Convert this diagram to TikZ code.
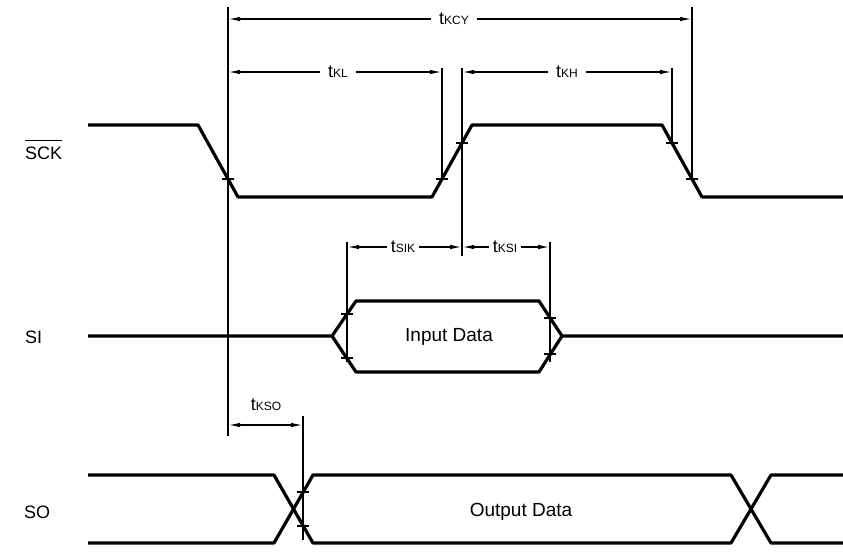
\documentclass[tikz,border=0pt]{standalone}
\usepackage{fontspec}
\setmainfont{Liberation Sans}
\usetikzlibrary{arrows.meta}

\newcommand{\tlab}[1]{t{\fontsize{12}{13}\selectfont #1}}

\begin{document}
\begin{tikzpicture}[x=1pt, y=-1pt,
  sig/.style = {line width=3.2pt, line join=round},
  guide/.style = {line width=1.2pt},
  tick/.style = {line width=1.2pt},
  dim/.style = {line width=1.4pt, -{Latex[length=12pt,width=4.5pt]}},
  signame/.style = {font=\fontsize{18}{20}\selectfont, inner sep=0pt, anchor=base west},
  tval/.style = {font=\fontsize{18}{20}\selectfont, inner xsep=8pt, inner ysep=3pt},
  data/.style = {font=\fontsize{19}{21}\selectfont}]

\useasboundingbox (0,0) rectangle (843,552);

% signal names
\node[signame] (sck) at (25,159) {SCK};
\draw[guide] ([yshift=6pt]sck.north west) -- ([yshift=6pt]sck.north east);
\node[signame] (si) at (25,343) {SI};
\node[signame] (so) at (24,518) {SO};

% SCK
\draw[sig] (88,125) -- (198,125) -- (238,197) -- (432,197) -- (472,125)
  -- (662,125) -- (702,197) -- (843,197);

% SI
\draw[sig] (88,336) -- (332,336) -- (356,301) -- (539,301) -- (562,336) -- (843,336);
\draw[sig] (332,336) -- (356,372) -- (539,372) -- (562,336);
\node[data] (in) at (449,337) {Input Data};

% SO
\draw[sig] (88,475) -- (274,475) -- (313,543) -- (731,543) -- (771,475) -- (843,475);
\draw[sig] (88,543) -- (274,543) -- (313,475) -- (731,475) -- (771,543) -- (843,543);
\node[data] (out) at (521,512) {Output Data};

% reference lines
\draw[guide] (228,7) -- (228,436);
\draw[guide] (442,68) -- (442,179);
\draw[guide] (462,68) -- (462,256);
\draw[guide] (672,68) -- (672,143);
\draw[guide] (692,7) -- (692,180);
\draw[guide] (347,242) -- (347,362);
\draw[guide] (550,242) -- (550,362);
\draw[guide] (303,416) -- (303,540);

% crossing marks
\foreach \x/\y in {228/179, 442/179, 462/143, 672/143, 692/179,
    347/314, 347/358, 550/318, 550/354, 303/492, 303/526}
  \draw[tick] (\x-6,\y) -- (\x+6,\y);

% timing values
\node[tval] (kcy) at (454,19) {\tlab{KCY}};
\draw[dim] (kcy.west) -- (228,19);
\draw[dim] (kcy.east) -- (692,19);

\node[tval] (kl) at (338,72) {\tlab{KL}};
\draw[dim] (kl.west) -- (228,72);
\draw[dim] (kl.east) -- (442,72);

\node[tval] (kh) at (567,72) {\tlab{KH}};
\draw[dim] (kh.west) -- (462,72);
\draw[dim] (kh.east) -- (672,72);

\node[tval, inner xsep=4pt] (sik) at (403,247) {\tlab{SIK}};
\draw[dim] (sik.west) -- (347,247);
\draw[dim] (sik.east) -- (462,247);

\node[tval, inner xsep=4pt] (ksi) at (505,247) {\tlab{KSI}};
\draw[dim] (ksi.west) -- (462,247);
\draw[dim] (ksi.east) -- (550,247);

\node[tval] (kso) at (266,405) {\tlab{KSO}};
\coordinate (kso1) at (228,425);
\coordinate (kso2) at (303,425);
\draw[dim, {Latex[length=12pt,width=4.5pt]}-{Latex[length=12pt,width=4.5pt]}] (kso1) -- (kso2);

\end{tikzpicture}
\end{document}
